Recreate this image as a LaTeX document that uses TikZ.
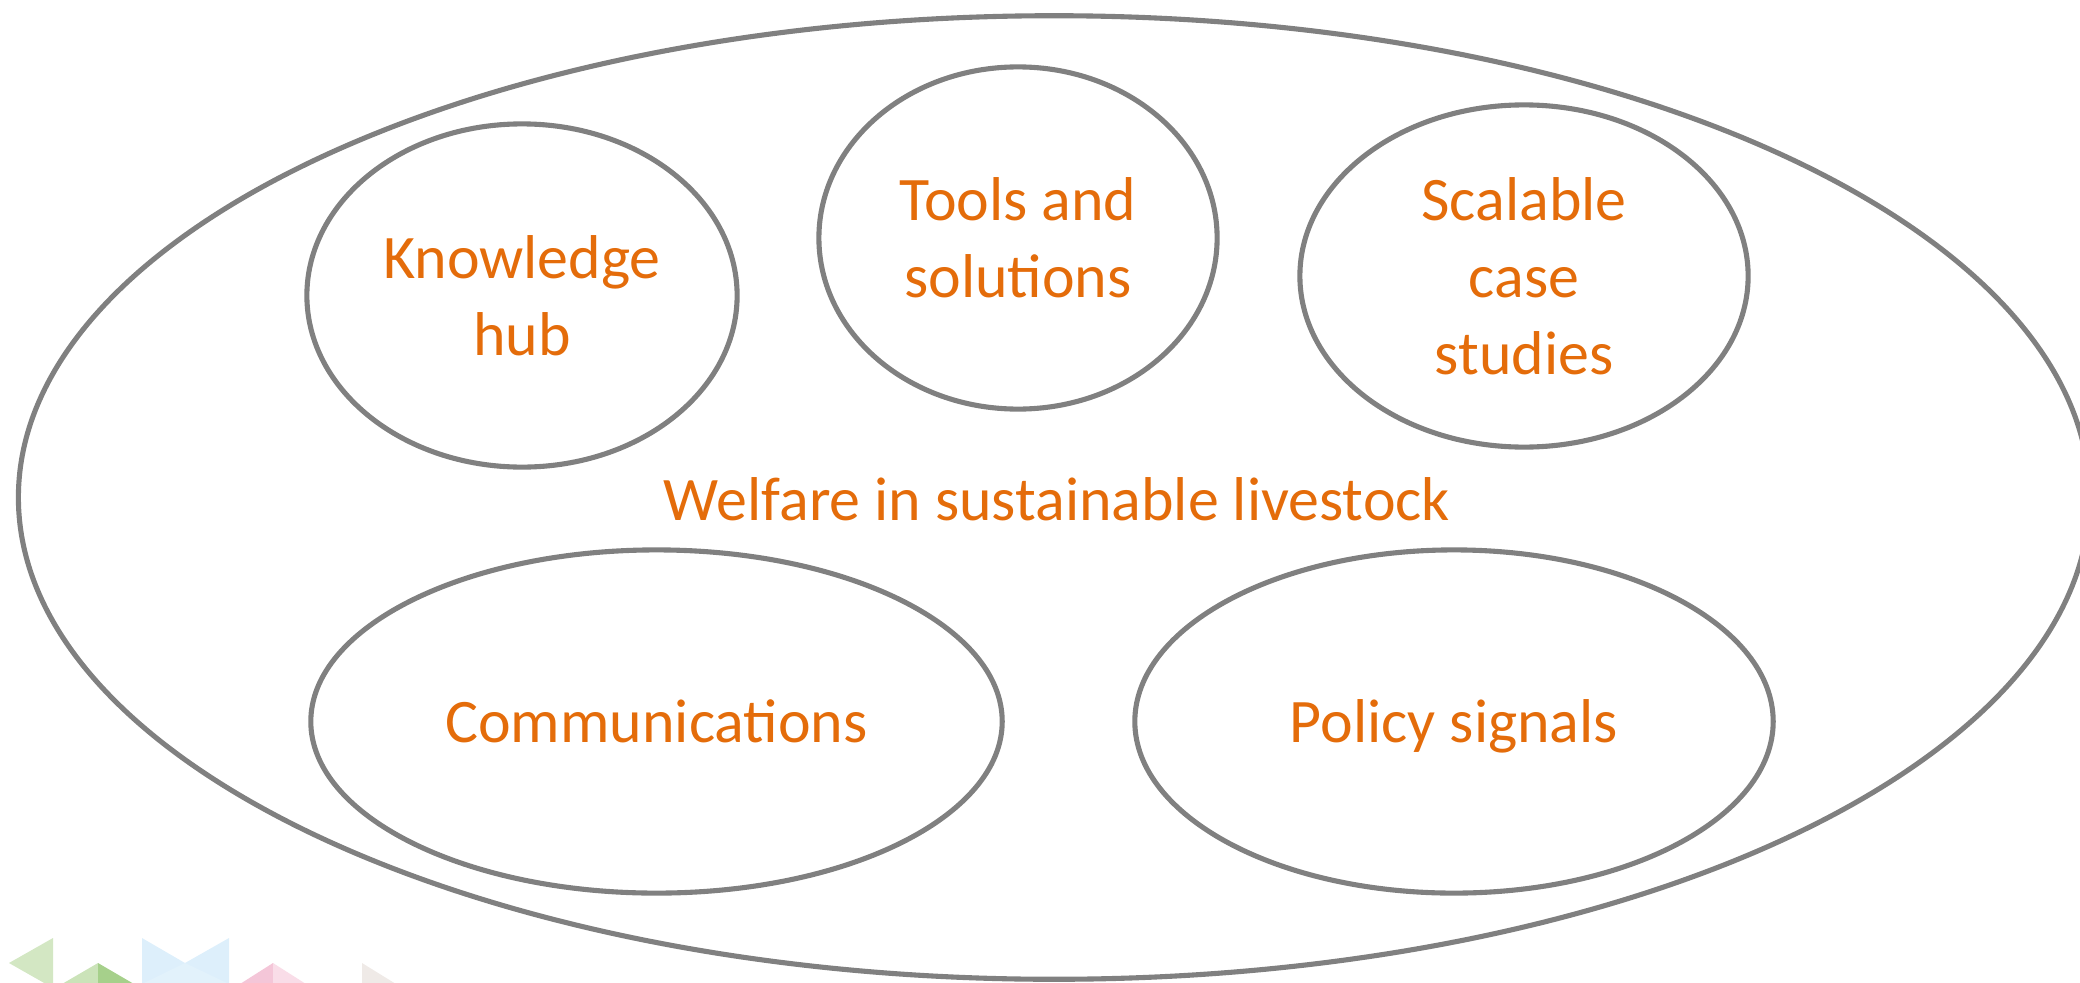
\documentclass[tikz,border=0pt]{standalone}
\usepackage{fontspec}
\setmainfont{Carlito}
\usetikzlibrary{shapes.geometric}
\definecolor{rimgray}{HTML}{808080}
\definecolor{txtorange}{HTML}{E46C0A}
\definecolor{leafpale}{HTML}{D3E7C3}
\definecolor{leaflight}{HTML}{CBE3B9}
\definecolor{leafdark}{HTML}{A6D08B}
\definecolor{skypale}{HTML}{DDEFFB}
\definecolor{skylight}{HTML}{E2F2FB}
\definecolor{rosedark}{HTML}{F4C6D8}
\definecolor{roselight}{HTML}{F9DDE8}
\definecolor{sandpale}{HTML}{EFEAE7}
\tikzset{bubble/.style={ellipse, draw=rimgray, line width=1.45pt, inner sep=0pt, outer sep=0pt,
  text=txtorange, align=center, text depth=0pt, font=\fontsize{17.6pt}{21.9pt}\selectfont},
%plain orange caption
caption/.style={text=txtorange, inner sep=0pt, font=\fontsize{17.6pt}{21.9pt}\selectfont}}

\begin{document}
\begin{tikzpicture}[x=0.01cm,y=-0.01cm]

    \useasboundingbox (0,0) rectangle (2080,982);
    \clip (0,0) rectangle (2080,982);

    % corner triangles
    \coordinate (a0) at (53,938);
    \coordinate (a1) at (9,963);
    \coordinate (a2) at (53,988);
    \coordinate (b0) at (98,963);
    \coordinate (b1) at (62,984);
    \coordinate (b2) at (134,984);
    \coordinate (b3) at (98,984);
    \coordinate (c0) at (142,938);
    \coordinate (c1) at (185,963);
    \coordinate (c2) at (229,938);
    \coordinate (c3) at (229,984);
    \coordinate (c4) at (142,984);
    \coordinate (d0) at (273,963);
    \coordinate (d1) at (240,984);
    \coordinate (d2) at (306,984);
    \coordinate (d3) at (273,984);
    \coordinate (e0) at (362,963);
    \coordinate (e1) at (362,984);
    \coordinate (e2) at (396,984);

    \fill[leafpale] (a0) -- (a1) -- (a2) -- cycle;
    \fill[leaflight] (b0) -- (b1) -- (b3) -- cycle;
    \fill[leafdark] (b0) -- (b2) -- (b3) -- cycle;
    \fill[skypale] (c0) -- (c1) -- (c2) -- (c3) -- (c4) -- cycle;
    \fill[skylight] (c1) -- (c3) -- (c4) -- cycle;
    \fill[rosedark] (d0) -- (d1) -- (d3) -- cycle;
    \fill[roselight] (d0) -- (d2) -- (d3) -- cycle;
    \fill[sandpale] (e0) -- (e1) -- (e2) -- cycle;

    \node[bubble, minimum width=20.7cm, minimum height=9.63cm] (welfare) at (1054,497.5) {};
    \node[caption, anchor=base] (welfarelbl) at (1057,520) {Welfare in sustainable livestock};

    \node[bubble, minimum width=4.30cm, minimum height=3.43cm] (knowledge) at (522,295.5) {Knowledge\\hub};
    \node[bubble, minimum width=3.98cm, minimum height=3.42cm] (tools) at (1018,238) {Tools and\\solutions};
    \node[bubble, minimum width=4.48cm, minimum height=3.42cm] (cases) at (1524,276) {Scalable\\case\\studies};
    \node[bubble, minimum width=6.91cm, minimum height=3.43cm] (comms) at (656.5,721.5) {Communications};
    \node[bubble, minimum width=6.38cm, minimum height=3.43cm] (policy) at (1454,721.5) {Policy signals};

  \end{tikzpicture}
\end{document}
